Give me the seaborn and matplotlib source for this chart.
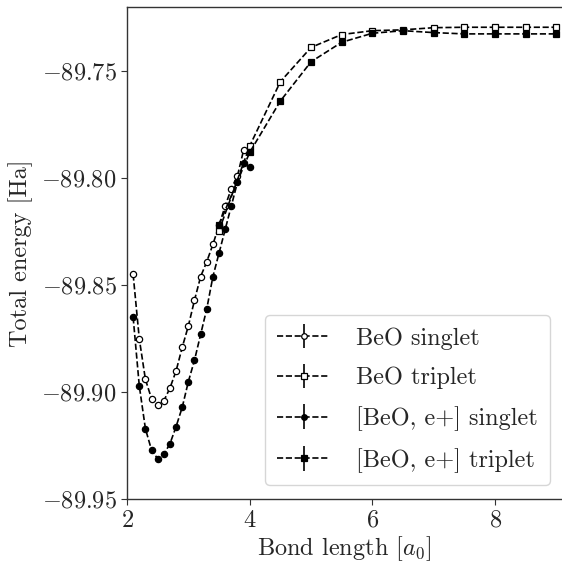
import matplotlib
matplotlib.use("Agg")
import matplotlib.pyplot as plt
import seaborn as sns

# Bond lengths [a0] and total energies [Ha]
singlet_x = [2.1, 2.2, 2.3, 2.4, 2.5, 2.6, 2.7, 2.8, 2.9, 3.0,
             3.1, 3.2, 3.3, 3.4, 3.5, 3.6, 3.7, 3.8, 3.9]
beo_singlet = [-89.845, -89.875, -89.894, -89.903, -89.906, -89.904, -89.898,
               -89.890, -89.879, -89.869, -89.857, -89.846, -89.839, -89.831,
               -89.822, -89.813, -89.805, -89.799, -89.787]

pos_singlet_x = [2.1, 2.2, 2.3, 2.4, 2.5, 2.6, 2.7, 2.8, 2.9, 3.0,
                 3.1, 3.2, 3.3, 3.4, 3.5, 3.6, 3.7, 3.8, 3.9, 4.0]
pos_singlet = [-89.865, -89.897, -89.917, -89.927, -89.931, -89.929, -89.924,
               -89.916, -89.907, -89.895, -89.885, -89.873, -89.861, -89.846,
               -89.835, -89.824, -89.813, -89.802, -89.793, -89.795]

triplet_x = [3.5, 4.0, 4.5, 5.0, 5.5, 6.0, 6.5, 7.0, 7.5, 8.0, 8.5, 9.0]
beo_triplet = [-89.8245, -89.785, -89.755, -89.739, -89.733, -89.7312,
               -89.7308, -89.7298, -89.7296, -89.7296, -89.7296, -89.7296]
pos_triplet = [-89.8217, -89.788, -89.764, -89.7457, -89.7366, -89.7324,
               -89.7312, -89.7321, -89.7327, -89.7327, -89.7327, -89.7327]

labels = ["BeO singlet", "BeO triplet", "[BeO, e+] singlet", "[BeO, e+] triplet"]

sns.set_theme(style="ticks")
plt.rcParams["font.family"] = "serif"
plt.rcParams["font.serif"] = ["cmr10", "DejaVu Serif"]
plt.rcParams["mathtext.fontset"] = "cm"
plt.rcParams["axes.formatter.use_mathtext"] = True
plt.rcParams["axes.unicode_minus"] = True

fs = 17.5
fig = plt.figure(figsize=(5.62, 5.64), dpi=100)
ax = fig.add_axes([0.226, 0.1145, 0.774, 0.8725])

style = dict(ls="--", color="black", lw=1.2, markersize=4.5,
             markeredgecolor="black", markeredgewidth=0.9, elinewidth=1.2)

ax.errorbar(singlet_x, beo_singlet, yerr=[0] * len(singlet_x), marker="o",
            markerfacecolor="white", label=labels[0], **style)
ax.errorbar(triplet_x, beo_triplet, yerr=[0] * len(triplet_x), marker="s",
            markerfacecolor="white", label=labels[1], **style)
ax.errorbar(pos_singlet_x, pos_singlet, yerr=[0] * len(pos_singlet_x), marker="o",
            markerfacecolor="black", label=labels[2], **style)
ax.errorbar(triplet_x, pos_triplet, yerr=[0] * len(triplet_x), marker="s",
            markerfacecolor="black", label=labels[3], **style)

ax.set_xlim(2, 9.09)
ax.set_ylim(-89.95, -89.7203)
ax.set_xticks([2, 4, 6, 8])
ax.set_yticks([-89.95, -89.90, -89.85, -89.80, -89.75])
ax.set_yticklabels(["$-89.95$", "$-89.90$", "$-89.85$", "$-89.80$", "$-89.75$"])
ax.set_xticklabels(["$2$", "$4$", "$6$", "$8$"])
ax.tick_params(labelsize=fs, direction="out", length=4, width=0.8, color="#333333")
ax.spines["right"].set_visible(False)
for s in ["left", "bottom", "top"]:
    ax.spines[s].set_color("#333333")
    ax.spines[s].set_linewidth(1.0)

ax.set_xlabel("Bond length [$a_0$]", fontsize=fs, labelpad=2)
ax.set_ylabel("Total energy [Ha]", fontsize=fs, labelpad=6)

leg = ax.legend(loc="lower right", fontsize=fs, frameon=True, fancybox=True,
                bbox_to_anchor=(0.972, 0.0295), borderaxespad=0,
                borderpad=0.5, labelspacing=0.7, handlelength=2.2,
                handletextpad=1.05, markerscale=0.9)
leg.get_frame().set_edgecolor("#cccccc")

fig.savefig("out.png", dpi=100)
